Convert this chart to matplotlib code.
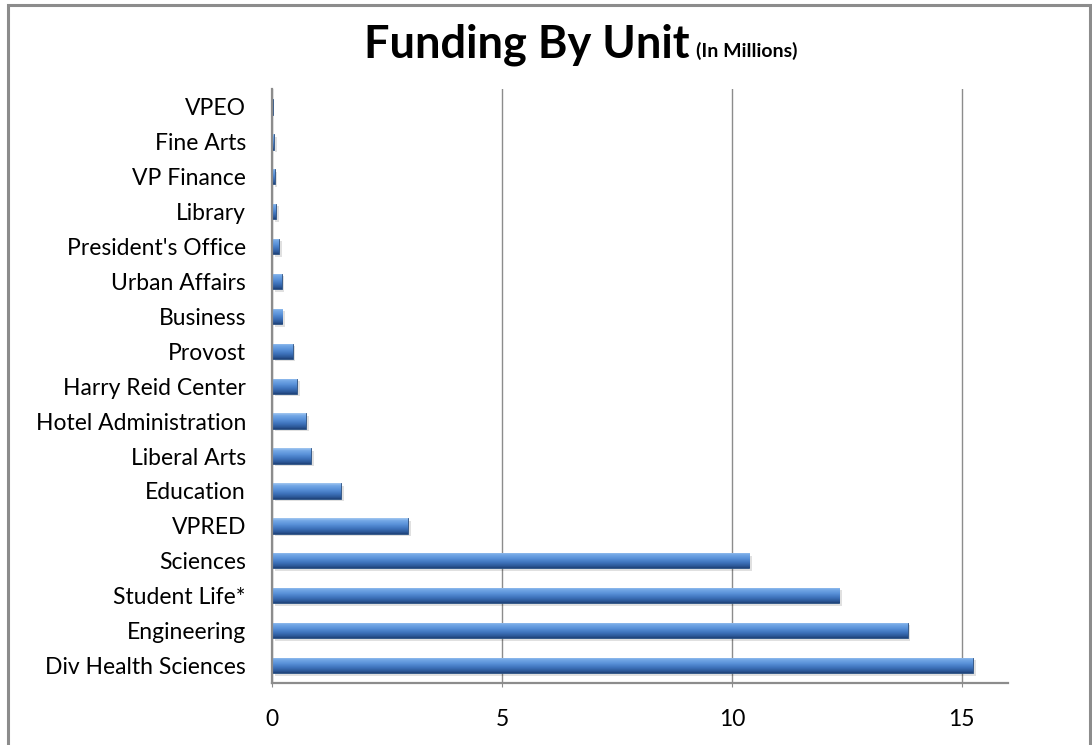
import matplotlib
matplotlib.use('agg')
import matplotlib.pyplot as plt
import numpy as np
from matplotlib.colors import LinearSegmentedColormap
from matplotlib.patches import Rectangle

# bottom to top
units = ["Div Health Sciences", "Engineering", "Student Life*", "Sciences", "VPRED",
         "Education", "Liberal Arts", "Hotel Administration", "Harry Reid Center",
         "Provost", "Business", "Urban Affairs", "President's Office", "Library",
         "VP Finance", "Fine Arts", "VPEO"]
funding = [15.25, 13.82, 12.34, 10.38, 2.95,
           1.49, 0.84, 0.73, 0.54,
           0.44, 0.22, 0.20, 0.15, 0.08,
           0.05, 0.04, 0.005]
xticks = [0, 5, 10, 15]

plt.rcParams['font.family'] = ['Lato', 'DejaVu Sans']

fig = plt.figure(figsize=(10.92, 7.45), dpi=100)
ax = fig.add_axes([0.2494, 0.0832, 0.6734, 0.7967])

# outer chart border
fig.patches.append(Rectangle((8 / 1092, -0.01), 1082 / 1092, 1 - 5 / 745 + 0.01,
                             transform=fig.transFigure, fill=False,
                             edgecolor='#8c8c8c', linewidth=2.2))

# bevel-like gradient (top -> bottom)
grad = LinearSegmentedColormap.from_list('bev', [
    (0.0, '#a4c8f0'), (0.15, '#74a8e6'), (0.38, '#5b93da'),
    (0.65, '#3f74bd'), (0.88, '#2c5898'), (1.0, '#1f4277')])
g = np.linspace(0, 1, 64).reshape(-1, 1)

y = np.arange(len(units))
h = 0.44
# shadow
ax.barh(y - 0.07, funding, height=h, left=0.06, color='#000000', alpha=0.12,
        edgecolor='none', zorder=2)
bars = ax.barh(y, funding, height=h, color='#4f81bd', edgecolor='#2a4f80',
               linewidth=0.6, zorder=3)
for b in bars:
    x0, y0 = b.get_x(), b.get_y()
    w, hh = b.get_width(), b.get_height()
    im = ax.imshow(g, cmap=grad, aspect='auto', extent=(x0, x0 + w, y0, y0 + hh),
                   origin='upper', zorder=4, interpolation='bilinear')
    im.set_clip_path(b)

ax.set_xlim(0, 16)
ax.set_ylim(-0.5, len(units) - 0.5)
ax.set_xticks(xticks)
ax.set_yticks(y)
ax.set_yticklabels(units)
ax.tick_params(axis='y', length=0, pad=19, labelsize=16.5)
ax.tick_params(axis='x', length=3, color='#8c8c8c', pad=16, labelsize=16.5)

ax.grid(True, axis='x', color='#8c8c8c', linewidth=1.0, zorder=0)
ax.set_axisbelow(True)
for s in ['top', 'right']:
    ax.spines[s].set_visible(False)
for s in ['left', 'bottom']:
    ax.spines[s].set_color('#8c8c8c')
    ax.spines[s].set_linewidth(1.6)
    ax.spines[s].set_zorder(5)

base_y = 1 - 57 / 745
t = fig.text(0.333, base_y, "Funding By Unit", fontsize=32.5, fontweight='bold',
             ha='left', va='baseline')
fig.canvas.draw()
bb = t.get_window_extent()
fig.text(bb.x1 / fig.bbox.width + 0.006, base_y, "(In Millions)", fontsize=14,
         fontweight='bold', ha='left', va='baseline')

fig.savefig('out.png', dpi=100)
